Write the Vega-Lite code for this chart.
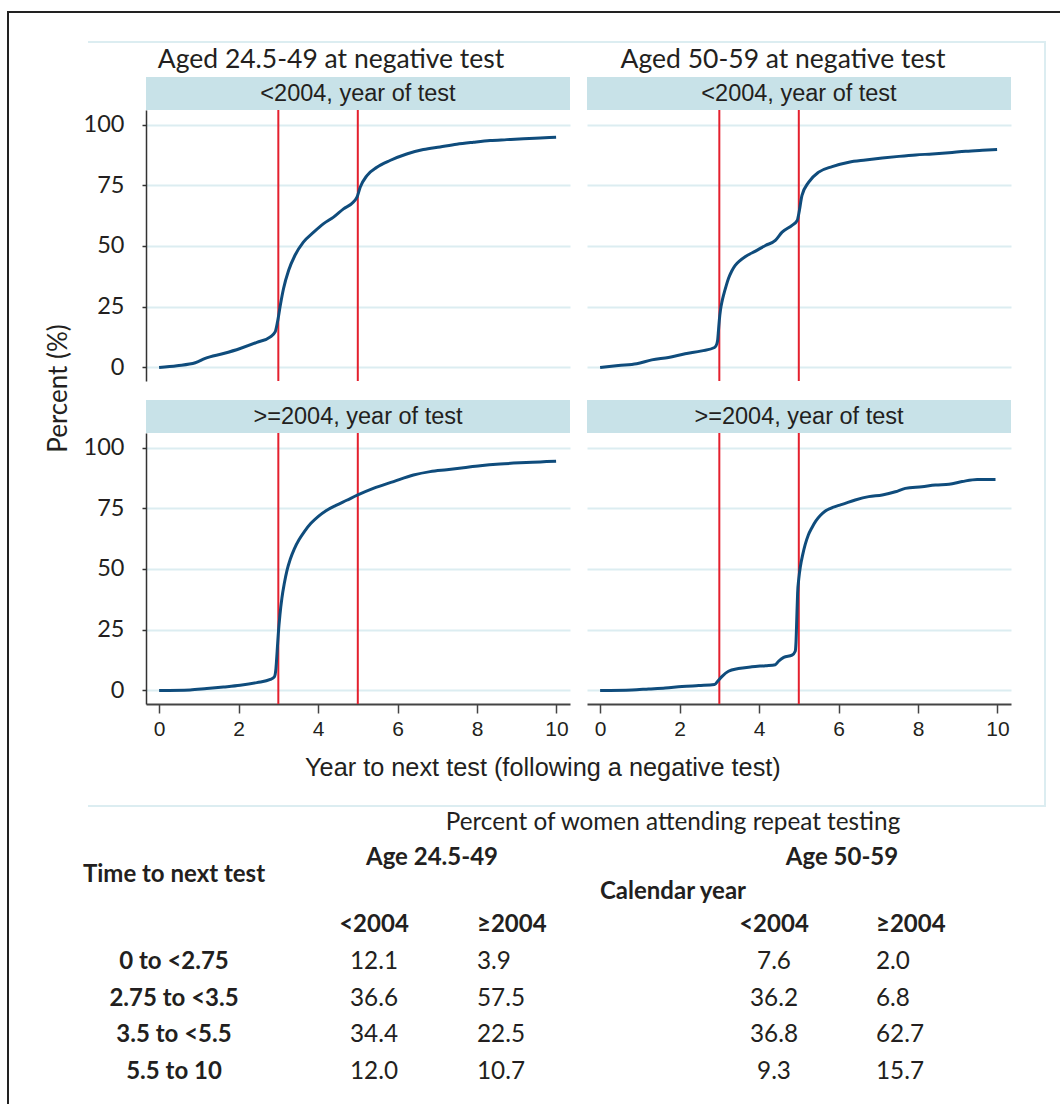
{
  "$schema": "https://vega.github.io/schema/vega-lite/v6.json",
  "background": "white",
  "padding": {"left": 7, "top": 11, "right": 0, "bottom": 0},
  "config": {"view": {"stroke": null}},
  "datasets": {
    "tl": [{"x":0,"y":0},{"x":0.45,"y":0.7},{"x":0.91,"y":1.9},{"x":1.16,"y":3.7},{"x":1.62,"y":5.7},{"x":2.04,"y":7.8},{"x":2.46,"y":10.3},{"x":2.8,"y":12.6},{"x":2.92,"y":14.6},{"x":2.98,"y":18.8},{"x":3.05,"y":25.6},{"x":3.13,"y":32.4},{"x":3.26,"y":40.0},{"x":3.42,"y":46.2},{"x":3.63,"y":51.6},{"x":3.89,"y":55.7},{"x":4.14,"y":59.2},{"x":4.39,"y":61.9},{"x":4.64,"y":65.3},{"x":4.89,"y":68.1},{"x":4.98,"y":70.1},{"x":5.06,"y":74.2},{"x":5.23,"y":79.0},{"x":5.48,"y":82.4},{"x":5.81,"y":85.2},{"x":6.23,"y":87.9},{"x":6.65,"y":89.7},{"x":7.07,"y":90.8},{"x":7.49,"y":91.9},{"x":7.91,"y":92.7},{"x":8.33,"y":93.4},{"x":8.75,"y":93.8},{"x":9.17,"y":94.2},{"x":9.59,"y":94.5},{"x":9.99,"y":94.8}],
    "tr": [{"x":0,"y":0},{"x":0.46,"y":0.8},{"x":0.92,"y":1.5},{"x":1.3,"y":3.1},{"x":1.72,"y":4.1},{"x":2.14,"y":5.6},{"x":2.56,"y":6.8},{"x":2.88,"y":8.2},{"x":2.94,"y":9.8},{"x":2.96,"y":11.5},{"x":2.98,"y":15.5},{"x":3.0,"y":19.5},{"x":3.03,"y":23.8},{"x":3.07,"y":27.3},{"x":3.11,"y":30.0},{"x":3.17,"y":33.5},{"x":3.23,"y":36.6},{"x":3.31,"y":39.6},{"x":3.4,"y":42.0},{"x":3.52,"y":44.0},{"x":3.65,"y":45.6},{"x":3.91,"y":47.9},{"x":4.16,"y":50.2},{"x":4.41,"y":52.3},{"x":4.58,"y":55.7},{"x":4.83,"y":58.5},{"x":4.96,"y":60.5},{"x":5.0,"y":63.3},{"x":5.08,"y":70.8},{"x":5.25,"y":76.3},{"x":5.5,"y":80.4},{"x":5.84,"y":82.7},{"x":6.26,"y":84.5},{"x":6.68,"y":85.4},{"x":7.1,"y":86.2},{"x":7.52,"y":86.9},{"x":7.94,"y":87.5},{"x":8.36,"y":87.9},{"x":8.78,"y":88.4},{"x":9.2,"y":89.0},{"x":9.62,"y":89.4},{"x":9.99,"y":89.7}],
    "bl": [{"x":0,"y":0},{"x":0.78,"y":0.2},{"x":1.2,"y":0.8},{"x":1.62,"y":1.4},{"x":2.04,"y":2.1},{"x":2.46,"y":3.2},{"x":2.8,"y":4.5},{"x":2.9,"y":5.6},{"x":2.94,"y":9.0},{"x":2.97,"y":16.0},{"x":3.0,"y":23.5},{"x":3.04,"y":31.0},{"x":3.09,"y":38.0},{"x":3.15,"y":44.0},{"x":3.22,"y":49.5},{"x":3.3,"y":54.0},{"x":3.4,"y":58.2},{"x":3.52,"y":62.0},{"x":3.66,"y":65.5},{"x":3.82,"y":68.8},{"x":4.0,"y":71.6},{"x":4.2,"y":74.0},{"x":4.45,"y":76.2},{"x":4.72,"y":78.3},{"x":5.0,"y":80.5},{"x":5.39,"y":83.2},{"x":5.9,"y":86.0},{"x":6.4,"y":88.7},{"x":6.82,"y":90.1},{"x":7.24,"y":90.9},{"x":7.66,"y":91.7},{"x":8.08,"y":92.5},{"x":8.58,"y":93.2},{"x":9.08,"y":93.7},{"x":9.59,"y":94.1},{"x":9.99,"y":94.4}],
    "br": [{"x":0,"y":0},{"x":0.8,"y":0.2},{"x":1.22,"y":0.6},{"x":1.64,"y":1.0},{"x":2.06,"y":1.6},{"x":2.48,"y":2.0},{"x":2.88,"y":2.4},{"x":2.98,"y":4.2},{"x":3.07,"y":5.8},{"x":3.23,"y":7.9},{"x":3.48,"y":9.0},{"x":3.82,"y":9.7},{"x":4.16,"y":10.2},{"x":4.41,"y":10.6},{"x":4.49,"y":12.0},{"x":4.62,"y":13.6},{"x":4.83,"y":14.5},{"x":4.91,"y":16.1},{"x":4.93,"y":20.0},{"x":4.95,"y":30.0},{"x":4.97,"y":40.0},{"x":5.0,"y":46.0},{"x":5.04,"y":51.0},{"x":5.1,"y":56.0},{"x":5.16,"y":60.0},{"x":5.24,"y":64.0},{"x":5.33,"y":67.0},{"x":5.43,"y":69.8},{"x":5.54,"y":72.0},{"x":5.66,"y":73.8},{"x":5.8,"y":75.0},{"x":5.95,"y":75.9},{"x":6.09,"y":76.6},{"x":6.42,"y":78.4},{"x":6.76,"y":79.8},{"x":7.1,"y":80.5},{"x":7.43,"y":81.8},{"x":7.68,"y":83.2},{"x":8.1,"y":83.9},{"x":8.44,"y":84.6},{"x":8.78,"y":84.9},{"x":9.11,"y":86.0},{"x":9.49,"y":86.9},{"x":9.95,"y":86.9}],
    "table": [
      {"row":0,"col":4,"text":"Percent of women attending repeat testing","part":"caption"},
      {"row":1,"col":2,"text":"Age 24.5-49","part":"head"},
      {"row":1,"col":6,"text":"Age 50-59","part":"head"},
      {"row":2,"col":0,"text":"Time to next test","part":"head"},
      {"row":3,"col":4,"text":"Calendar year","part":"head"},
      {"row":4,"col":1,"text":"<2004","part":"head"},
      {"row":4,"col":3,"text":"≥2004","part":"head"},
      {"row":4,"col":5,"text":"<2004","part":"head"},
      {"row":4,"col":7,"text":"≥2004","part":"head"},
      {"row":5,"col":0,"text":"0 to <2.75","part":"head"},
      {"row":5,"col":1,"text":"12.1","part":"value"},
      {"row":5,"col":3,"text":"3.9","part":"value"},
      {"row":5,"col":5,"text":"7.6","part":"value"},
      {"row":5,"col":7,"text":"2.0","part":"value"},
      {"row":6,"col":0,"text":"2.75 to <3.5","part":"head"},
      {"row":6,"col":1,"text":"36.6","part":"value"},
      {"row":6,"col":3,"text":"57.5","part":"value"},
      {"row":6,"col":5,"text":"36.2","part":"value"},
      {"row":6,"col":7,"text":"6.8","part":"value"},
      {"row":7,"col":0,"text":"3.5 to <5.5","part":"head"},
      {"row":7,"col":1,"text":"34.4","part":"value"},
      {"row":7,"col":3,"text":"22.5","part":"value"},
      {"row":7,"col":5,"text":"36.8","part":"value"},
      {"row":7,"col":7,"text":"62.7","part":"value"},
      {"row":8,"col":0,"text":"5.5 to 10","part":"head"},
      {"row":8,"col":1,"text":"12.0","part":"value"},
      {"row":8,"col":3,"text":"10.7","part":"value"},
      {"row":8,"col":5,"text":"9.3","part":"value"},
      {"row":8,"col":7,"text":"15.7","part":"value"}
    ]
  },
  "bounds": "flush",
  "spacing": 0,
  "vconcat": [
    {"width": 1053, "height": 2, "view": {"fill": "#222222"}, "data": {"values": []}, "mark": "point"},
    {"bounds": "flush", "spacing": 0, "hconcat": [
      {"width": 2, "height": 1091, "view": {"fill": "#222222"}, "data": {"values": []}, "mark": "point"},
      {"width": 79, "height": 1, "data": {"values": []}, "mark": "point"},
      {"bounds": "flush", "spacing": 0, "vconcat": [
        {"width": 1, "height": 28, "data": {"values": []}, "mark": "point"},
        {"bounds": "flush", "spacing": 0, "align": "each", "columns": 6, "concat": [
          {"width": 58, "height": 2, "view": {"fill": "#dcedf1"}, "data": {"values": []}, "mark": "point"},
          {"width": 424, "height": 2, "view": {"fill": "#dcedf1"}, "data": {"values": []}, "mark": "point"},
          {"width": 17, "height": 2, "view": {"fill": "#dcedf1"}, "data": {"values": []}, "mark": "point"},
          {"width": 424, "height": 2, "view": {"fill": "#dcedf1"}, "data": {"values": []}, "mark": "point"},
          {"width": 33, "height": 2, "view": {"fill": "#dcedf1"}, "data": {"values": []}, "mark": "point"},
          {"width": 2, "height": 2, "view": {"fill": "#dcedf1"}, "data": {"values": []}, "mark": "point"},

          {"width": 1, "height": 1, "data": {"values": []}, "mark": "point"},
          {"width": 424, "height": 34, "data": {"values": [{"t": "Aged 24.5-49 at negative test"}]}, "mark": {"type": "text", "font": "Lato", "fontSize": 26.5, "color": "#231f20", "align": "center", "baseline": "middle", "dx": -27}, "encoding": {"text": {"field": "t"}}},
          {"width": 1, "height": 1, "data": {"values": []}, "mark": "point"},
          {"width": 424, "height": 34, "data": {"values": [{"t": "Aged 50-59 at negative test"}]}, "mark": {"type": "text", "font": "Lato", "fontSize": 26.5, "color": "#231f20", "align": "center", "baseline": "middle", "dx": -16}, "encoding": {"text": {"field": "t"}}},
          {"width": 1, "height": 1, "data": {"values": []}, "mark": "point"},
          {"width": 2, "height": 34, "view": {"fill": "#dcedf1"}, "data": {"values": []}, "mark": "point"},

          {"width": 1, "height": 1, "data": {"values": []}, "mark": "point"},
          {"width": 424, "height": 33, "view": {"fill": "#c8e2e8"}, "data": {"values": [{"t": "<2004, year of test"}]}, "mark": {"type": "text", "font": "Liberation Sans", "fontSize": 23.5, "color": "#231f20", "align": "center", "baseline": "middle"}, "encoding": {"text": {"field": "t"}}},
          {"width": 1, "height": 1, "data": {"values": []}, "mark": "point"},
          {"width": 424, "height": 33, "view": {"fill": "#c8e2e8"}, "data": {"values": [{"t": "<2004, year of test"}]}, "mark": {"type": "text", "font": "Liberation Sans", "fontSize": 23.5, "color": "#231f20", "align": "center", "baseline": "middle"}, "encoding": {"text": {"field": "t"}}},
          {"width": 1, "height": 1, "data": {"values": []}, "mark": "point"},
          {"width": 2, "height": 33, "view": {"fill": "#dcedf1"}, "data": {"values": []}, "mark": "point"},

          {"width": 1, "height": 1, "data": {"values": []}, "mark": "point"},
          {"width": 424, "height": 271,
           "encoding": {"x": {"field": "x", "type": "quantitative", "scale": {"domain": [-0.33, 10.34], "nice": false, "zero": false}, "axis": null}},
           "layer": [
             {"data": {"values": [{"x": 3}, {"x": 5}]}, "mark": {"type": "rule", "color": "#e4202e", "strokeWidth": 2}},
             {"data": {"name": "tl"}, "mark": {"type": "line", "color": "#0f4c7c", "strokeWidth": 3, "interpolate": "monotone"},
              "encoding": {"y": {"field": "y", "type": "quantitative", "scale": {"domain": [-5.6, 106], "nice": false, "zero": false},
                "axis": {"values": [0, 25, 50, 75, 100], "grid": true, "gridColor": "#dcedf1", "gridWidth": 2, "domainColor": "#333333", "domainWidth": 1.5, "tickColor": "#333333", "tickSize": 4, "tickWidth": 1.5, "labelFont": "Lato", "labelFontSize": 23.5, "labelColor": "#231f20", "labelPadding": 18, "labelFlush": false,
                  "title": "Percent (%)", "titleFont": "Lato", "titleFontSize": 26, "titleFontWeight": "normal", "titleColor": "#231f20", "titleX": -87.5, "titleY": 278, "titleAngle": 270, "titleAlign": "center", "titleBaseline": "middle"}}}}
           ]},
          {"width": 1, "height": 1, "data": {"values": []}, "mark": "point"},
          {"width": 424, "height": 271,
           "encoding": {"x": {"field": "x", "type": "quantitative", "scale": {"domain": [-0.33, 10.34], "nice": false, "zero": false}, "axis": null}},
           "layer": [
             {"data": {"values": [{"x": 3}, {"x": 5}]}, "mark": {"type": "rule", "color": "#e4202e", "strokeWidth": 2}},
             {"data": {"name": "tr"}, "mark": {"type": "line", "color": "#0f4c7c", "strokeWidth": 3, "interpolate": "monotone"},
              "encoding": {"y": {"field": "y", "type": "quantitative", "scale": {"domain": [-5.6, 106], "nice": false, "zero": false},
                "axis": {"values": [0, 25, 50, 75, 100], "grid": true, "gridColor": "#dcedf1", "gridWidth": 2, "domain": false, "ticks": false, "labels": false, "title": null}}}}
           ]},
          {"width": 1, "height": 1, "data": {"values": []}, "mark": "point"},
          {"width": 2, "height": 271, "view": {"fill": "#dcedf1"}, "data": {"values": []}, "mark": "point"},

          {"width": 1, "height": 1, "data": {"values": []}, "mark": "point"},
          {"width": 1, "height": 1, "data": {"values": []}, "mark": "point"},
          {"width": 1, "height": 1, "data": {"values": []}, "mark": "point"},
          {"width": 1, "height": 1, "data": {"values": []}, "mark": "point"},
          {"width": 1, "height": 1, "data": {"values": []}, "mark": "point"},
          {"width": 2, "height": 19, "view": {"fill": "#dcedf1"}, "data": {"values": []}, "mark": "point"},

          {"width": 1, "height": 1, "data": {"values": []}, "mark": "point"},
          {"width": 424, "height": 33, "view": {"fill": "#c8e2e8"}, "data": {"values": [{"t": ">=2004, year of test"}]}, "mark": {"type": "text", "font": "Liberation Sans", "fontSize": 23.5, "color": "#231f20", "align": "center", "baseline": "middle"}, "encoding": {"text": {"field": "t"}}},
          {"width": 1, "height": 1, "data": {"values": []}, "mark": "point"},
          {"width": 424, "height": 33, "view": {"fill": "#c8e2e8"}, "data": {"values": [{"t": ">=2004, year of test"}]}, "mark": {"type": "text", "font": "Liberation Sans", "fontSize": 23.5, "color": "#231f20", "align": "center", "baseline": "middle"}, "encoding": {"text": {"field": "t"}}},
          {"width": 1, "height": 1, "data": {"values": []}, "mark": "point"},
          {"width": 2, "height": 33, "view": {"fill": "#dcedf1"}, "data": {"values": []}, "mark": "point"},

          {"width": 1, "height": 1, "data": {"values": []}, "mark": "point"},
          {"width": 424, "height": 271,
           "encoding": {"x": {"field": "x", "type": "quantitative", "scale": {"domain": [-0.33, 10.34], "nice": false, "zero": false},
             "axis": {"values": [0, 2, 4, 6, 8, 10], "grid": false, "domainColor": "#444444", "domainWidth": 2, "tickColor": "#444444", "tickSize": 9, "tickWidth": 1.5, "labelFont": "Liberation Sans", "labelFontSize": 21, "labelColor": "#231f20", "labelPadding": 5, "labelFlush": false,
               "title": "Year to next test (following a negative test)", "titleFont": "Liberation Sans", "titleFontSize": 25.3, "titleFontWeight": "normal", "titleColor": "#231f20", "titleX": 396.4, "titleY": 63, "titleAlign": "center", "titleBaseline": "middle"}}},
           "layer": [
             {"data": {"values": [{"x": 3}, {"x": 5}]}, "mark": {"type": "rule", "color": "#e4202e", "strokeWidth": 2}},
             {"data": {"name": "bl"}, "mark": {"type": "line", "color": "#0f4c7c", "strokeWidth": 3, "interpolate": "monotone"},
              "encoding": {"y": {"field": "y", "type": "quantitative", "scale": {"domain": [-5.6, 106], "nice": false, "zero": false},
                "axis": {"values": [0, 25, 50, 75, 100], "grid": true, "gridColor": "#dcedf1", "gridWidth": 2, "domainColor": "#333333", "domainWidth": 1.5, "tickColor": "#333333", "tickSize": 4, "tickWidth": 1.5, "labelFont": "Lato", "labelFontSize": 23.5, "labelColor": "#231f20", "labelPadding": 18, "labelFlush": false, "title": null}}}}
           ]},
          {"width": 1, "height": 1, "data": {"values": []}, "mark": "point"},
          {"width": 424, "height": 271,
           "encoding": {"x": {"field": "x", "type": "quantitative", "scale": {"domain": [-0.33, 10.34], "nice": false, "zero": false},
             "axis": {"values": [0, 2, 4, 6, 8, 10], "grid": false, "domainColor": "#444444", "domainWidth": 2, "tickColor": "#444444", "tickSize": 9, "tickWidth": 1.5, "labelFont": "Liberation Sans", "labelFontSize": 21, "labelColor": "#231f20", "labelPadding": 5, "labelFlush": false, "title": null}}},
           "layer": [
             {"data": {"values": [{"x": 3}, {"x": 5}]}, "mark": {"type": "rule", "color": "#e4202e", "strokeWidth": 2}},
             {"data": {"name": "br"}, "mark": {"type": "line", "color": "#0f4c7c", "strokeWidth": 3, "interpolate": "monotone"},
              "encoding": {"y": {"field": "y", "type": "quantitative", "scale": {"domain": [-5.6, 106], "nice": false, "zero": false},
                "axis": {"values": [0, 25, 50, 75, 100], "grid": true, "gridColor": "#dcedf1", "gridWidth": 2, "domain": false, "ticks": false, "labels": false, "title": null}}}}
           ]},
          {"width": 1, "height": 1, "data": {"values": []}, "mark": "point"},
          {"width": 2, "height": 271, "view": {"fill": "#dcedf1"}, "data": {"values": []}, "mark": "point"},

          {"width": 1, "height": 1, "data": {"values": []}, "mark": "point"},
          {"width": 1, "height": 1, "data": {"values": []}, "mark": "point"},
          {"width": 1, "height": 1, "data": {"values": []}, "mark": "point"},
          {"width": 1, "height": 1, "data": {"values": []}, "mark": "point"},
          {"width": 1, "height": 1, "data": {"values": []}, "mark": "point"},
          {"width": 2, "height": 101, "view": {"fill": "#dcedf1"}, "data": {"values": []}, "mark": "point"},

          {"width": 58, "height": 2, "view": {"fill": "#dcedf1"}, "data": {"values": []}, "mark": "point"},
          {"width": 424, "height": 2, "view": {"fill": "#dcedf1"}, "data": {"values": []}, "mark": "point"},
          {"width": 17, "height": 2, "view": {"fill": "#dcedf1"}, "data": {"values": []}, "mark": "point"},
          {"width": 424, "height": 2, "view": {"fill": "#dcedf1"}, "data": {"values": []}, "mark": "point"},
          {"width": 33, "height": 2, "view": {"fill": "#dcedf1"}, "data": {"values": []}, "mark": "point"},
          {"width": 2, "height": 2, "view": {"fill": "#dcedf1"}, "data": {"values": []}, "mark": "point"},

          {"width": 58, "height": 297, "data": {"name": "table"},
           "encoding": {
             "x": {"field": "col", "type": "quantitative", "axis": null, "scale": {"domain": [0, 1, 2, 3, 4, 5, 6, 7], "range": [86, 286, 344, 389, 585, 686, 754, 788], "nice": false, "zero": false}},
             "y": {"field": "row", "type": "quantitative", "axis": null, "scale": {"domain": [0, 1, 2, 3, 4, 5, 6, 7, 8], "range": [16, 51, 68, 85, 118, 155, 192, 228, 265], "nice": false, "zero": false}},
             "text": {"field": "text"}
           },
           "layer": [
             {"transform": [{"filter": "datum.part !== 'head' && datum.col !== 3 && datum.col !== 7"}], "mark": {"type": "text", "font": "Lato", "fontSize": 24.3, "color": "#231f20", "align": "center", "baseline": "middle"}},
             {"transform": [{"filter": "datum.part === 'value' && (datum.col === 3 || datum.col === 7)"}], "mark": {"type": "text", "font": "Lato", "fontSize": 24.3, "color": "#231f20", "align": "left", "baseline": "middle"}},
             {"transform": [{"filter": "datum.part === 'head' && datum.col !== 3 && datum.col !== 7"}], "mark": {"type": "text", "font": "Lato", "fontSize": 24, "fontWeight": "bold", "color": "#231f20", "align": "center", "baseline": "middle"}},
             {"transform": [{"filter": "datum.part === 'head' && (datum.col === 3 || datum.col === 7)"}], "mark": {"type": "text", "font": "Lato", "fontSize": 24, "fontWeight": "bold", "color": "#231f20", "align": "left", "baseline": "middle"}}
           ]}
        ]}
      ]}
    ]}
  ]
}
